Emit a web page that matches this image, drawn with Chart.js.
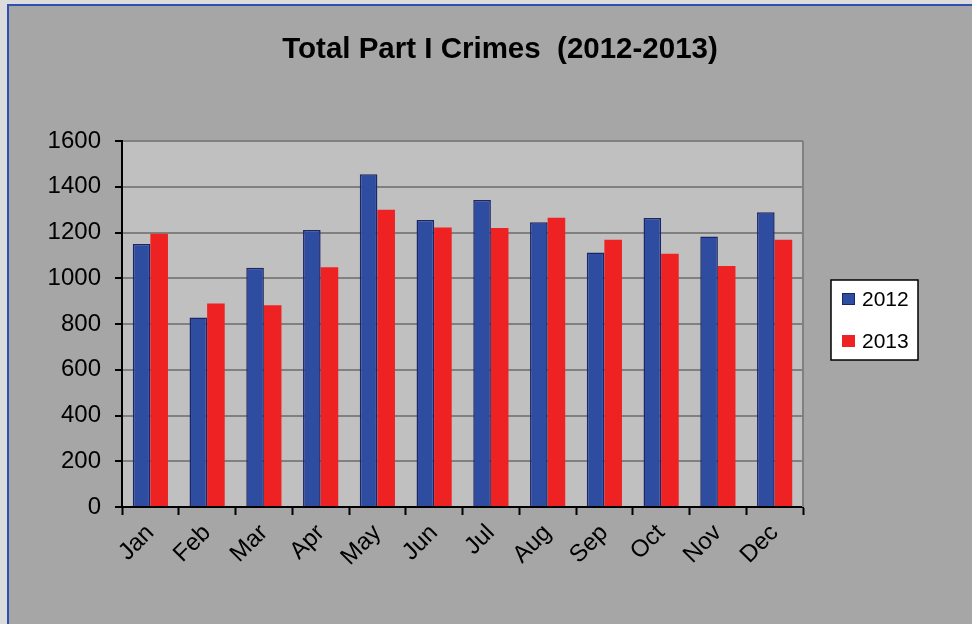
<!DOCTYPE html>
<html>
<head>
<meta charset="utf-8">
<script src="https://cdn.jsdelivr.net/npm/chart.js@4"></script>
<style>
  html, body { margin: 0; padding: 0; background: #dcdcdc; }
  #wrap { width: 972px; height: 624px; }
</style>
</head>
<body>
<div id="wrap"><canvas id="crimeChart" width="972" height="624"></canvas></div>
<script>
// values
const months = ['Jan', 'Feb', 'Mar', 'Apr', 'May', 'Jun', 'Jul', 'Aug', 'Sep', 'Oct', 'Nov', 'Dec'];
const crimes2012 = [1150, 828, 1046, 1211, 1455, 1255, 1342, 1245, 1113, 1263, 1183, 1289];
const crimes2013 = [1195, 890, 882, 1048, 1299, 1222, 1220, 1264, 1168, 1107, 1054, 1168];
const yTicks = [0, 200, 400, 600, 800, 1000, 1200, 1400, 1600];
const chartTitle = 'Total Part I Crimes  (2012-2013)';

const FONT = '"Liberation Sans", Arial, sans-serif';

// background frame, plot fill, title and legend
const framePlugin = {
    id: 'frame',
    beforeDraw: function(chart) {
        var ctx = chart.ctx;
        var a = chart.chartArea;
        ctx.save();
        ctx.fillStyle = '#dcdcdc';
        ctx.fillRect(0, 0, chart.width, chart.height);
        ctx.fillStyle = '#a6a6a6';
        ctx.fillRect(8, 5, chart.width, chart.height);
        ctx.strokeStyle = '#3050b0';
        ctx.lineWidth = 2;
        ctx.strokeRect(8, 5, chart.width + 10, chart.height + 10);
        // plot area
        ctx.fillStyle = '#c0c0c0';
        ctx.fillRect(a.left, a.top, a.right - a.left, a.bottom - a.top);
        ctx.restore();
    },
    afterDatasetsDraw: function(chart) {
        var ctx = chart.ctx;
        var a = chart.chartArea;
        ctx.save();
        // right border of the plot
        ctx.strokeStyle = '#808080';
        ctx.lineWidth = 2;
        ctx.beginPath();
        ctx.moveTo(a.right, a.top);
        ctx.lineTo(a.right, a.bottom);
        ctx.stroke();

        // title
        ctx.fillStyle = '#000';
        ctx.font = 'bold 29.5px ' + FONT;
        ctx.textAlign = 'center';
        ctx.textBaseline = 'middle';
        ctx.fillText(chartTitle, 500, 50);

        // legend box
        ctx.fillStyle = '#ffffff';
        ctx.fillRect(831, 280, 87, 80);
        ctx.strokeStyle = '#000';
        ctx.lineWidth = 1.5;
        ctx.strokeRect(831, 280, 87, 80);
        ctx.font = '21px ' + FONT;
        ctx.textAlign = 'left';
        chart.data.datasets.forEach(function(ds, i) {
            var y = 299 + i * 42;
            ctx.fillStyle = ds.backgroundColor;
            ctx.fillRect(842, y - 6, 13, 12);
            ctx.strokeStyle = ds.borderColor;
            ctx.lineWidth = 1;
            ctx.strokeRect(842.5, y - 5.5, 12, 11);
            ctx.fillStyle = '#000';
            ctx.fillText(ds.label, 862, y + 1);
        });
        ctx.restore();
    }
};

new Chart(document.getElementById('crimeChart'), {
    type: 'bar',
    data: {
        labels: months,
        datasets: [
            {
                label: '2012',
                data: crimes2012,
                backgroundColor: '#2e4da0',
                borderColor: '#1c2568',
                borderWidth: 1.5
            },
            {
                label: '2013',
                data: crimes2013,
                backgroundColor: '#ee2222',
                borderColor: '#ee2222',
                borderWidth: 0
            }
        ]
    },
    options: {
        responsive: false,
        animation: false,
        layout: {
            padding: { left: 0, top: 141, right: 169, bottom: 0 }
        },
        datasets: {
            bar: { categoryPercentage: 0.62, barPercentage: 1.0 }
        },
        plugins: {
            legend: { display: false },
            title: { display: false },
            tooltip: { enabled: false }
        },
        scales: {
            x: {
                afterFit: function(scale) { scale.height = 117; },
                grid: {
                    offset: true,
                    drawOnChartArea: false,
                    drawTicks: true,
                    tickLength: 8,
                    tickColor: '#000',
                    tickWidth: 2
                },
                border: { color: '#000', width: 2 },
                ticks: {
                    color: '#000',
                    font: { family: FONT, size: 24 },
                    maxRotation: 45,
                    minRotation: 45,
                    padding: 4
                }
            },
            y: {
                min: 0,
                max: 1600,
                afterFit: function(scale) { scale.width = 122; },
                afterBuildTicks: function(scale) {
                    scale.ticks = yTicks.map(function(v) { return { value: v }; });
                },
                grid: {
                    color: '#808080',
                    lineWidth: 2,
                    drawTicks: true,
                    tickLength: 7,
                    tickColor: '#000',
                    tickWidth: 2
                },
                border: { color: '#000', width: 2 },
                ticks: {
                    color: '#000',
                    font: { family: FONT, size: 24 },
                    padding: 14,
                    callback: function(v) { return String(v); }
                }
            }
        }
    },
    plugins: [framePlugin]
});
</script>
</body>
</html>
